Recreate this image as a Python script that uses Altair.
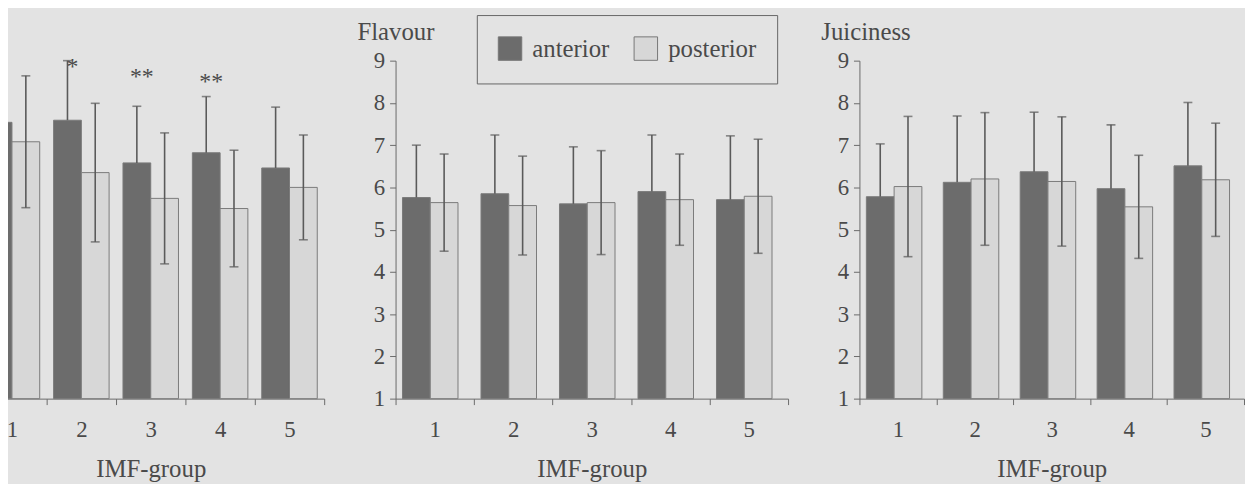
import altair as alt
import pandas as pd

groups = ["1", "2", "3", "4", "5"]
series = ["anterior", "posterior"]

# left (cut-off) panel
ten_ant_mean = [7.54, 7.59, 6.58, 6.82, 6.46]
ten_ant_sd = [1.63, 1.41, 1.34, 1.33, 1.44]
ten_post_mean = [7.08, 6.35, 5.74, 5.50, 6.00]
ten_post_sd = [1.56, 1.64, 1.55, 1.38, 1.24]

# Flavour
fla_ant_mean = [5.76, 5.85, 5.61, 5.90, 5.71]
fla_ant_sd = [1.24, 1.39, 1.35, 1.34, 1.51]
fla_post_mean = [5.64, 5.57, 5.64, 5.71, 5.79]
fla_post_sd = [1.15, 1.17, 1.23, 1.08, 1.35]

# Juiciness
jui_ant_mean = [5.78, 6.12, 6.37, 5.97, 6.51]
jui_ant_sd = [1.25, 1.57, 1.41, 1.51, 1.50]
jui_post_mean = [6.02, 6.20, 6.14, 5.54, 6.18]
jui_post_sd = [1.66, 1.57, 1.53, 1.22, 1.34]

star_groups = ["2", "3", "4"]
star_labels = ["*", "**", "**"]
star_y = [8.85, 8.6, 8.5]

FONT = "Liberation Serif"
TXT = "#4a4a4a"
LINE = "#5a5a5a"


def make_df(am, asd, pm, psd):
    rows = []
    for i, g in enumerate(groups):
        rows.append(dict(group=g, series="anterior", mean=am[i], base=1.0,
                         lo=am[i], hi=am[i] + asd[i]))
        rows.append(dict(group=g, series="posterior", mean=pm[i], base=1.0,
                         lo=pm[i] - psd[i], hi=pm[i] + psd[i]))
    return pd.DataFrame(rows)


legend = alt.Legend(
    title=None, orient="none", legendX=504, legendY=-46, direction="horizontal",
    symbolType="square", symbolSize=560, symbolStrokeColor="#777777",
    symbolStrokeWidth=1, labelFont=FONT, labelFontSize=25, labelColor=TXT,
    labelOffset=10, columnPadding=22, padding=21, strokeColor="#666666",
    labelLimit=200,
)

fill_scale = alt.Scale(domain=series, range=["#6c6c6c", "#d7d7d7"])
yscale = alt.Scale(domain=[1, 9], nice=False, zero=False)


def panel(df, title, width, show_y=True, stars=None):
    xs = alt.Scale(paddingInner=0, paddingOuter=0)
    x = alt.X("group:N", scale=xs, sort=groups,
              axis=alt.Axis(title="IMF-group", tickBand="extent", labelAngle=0,
                            tickSize=6, labelPadding=14, titlePadding=16))
    xo = alt.XOffset("series:N", sort=series,
                     scale=alt.Scale(paddingOuter=0.25, paddingInner=0))
    if show_y:
        yax = alt.Axis(title=title, values=list(range(1, 10)), tickSize=6,
                       labelPadding=5, titleAngle=0, titleAlign="left",
                       titleBaseline="alphabetic", titleX=-39, titleY=-21)
    else:
        yax = None
    base = alt.Chart(df)
    bars = base.mark_bar(stroke="#7a7a7a", strokeWidth=1).encode(
        x=x, xOffset=xo,
        y=alt.Y("mean:Q", scale=yscale, axis=yax),
        y2="base:Q",
        fill=alt.Fill("series:N", scale=fill_scale, legend=legend),
    )
    rules = base.mark_rule(color=LINE, strokeWidth=1.6).encode(
        x=x, xOffset=xo, y="lo:Q", y2="hi:Q")
    caps_top = base.mark_tick(color=LINE, orient="horizontal", size=9,
                              thickness=1.6).encode(x=x, xOffset=xo, y="hi:Q")
    caps_bot = base.transform_filter(alt.datum.series == "posterior").mark_tick(
        color=LINE, orient="horizontal", size=9, thickness=1.6
    ).encode(x=x, xOffset=xo, y="lo:Q")
    layers = [bars, rules, caps_top, caps_bot]
    if stars is not None:
        st = alt.Chart(stars).mark_text(font=FONT, fontSize=24, color=TXT,
                                        baseline="middle", dx=5).encode(
            x=x, xOffset=xo, y=alt.Y("y:Q", scale=yscale), text="label:N")
        layers.append(st)
    return alt.layer(*layers).properties(width=width, height=341)


stars_df = pd.DataFrame({"group": star_groups, "label": star_labels,
                         "y": star_y, "series": ["anterior"] * 3})

pA = panel(make_df(ten_ant_mean, ten_ant_sd, ten_post_mean, ten_post_sd),
           "", 350, show_y=False, stars=stars_df)
pB = panel(make_df(fla_ant_mean, fla_ant_sd, fla_post_mean, fla_post_sd),
           "Flavour", 396)
pC = panel(make_df(jui_ant_mean, jui_ant_sd, jui_post_mean, jui_post_sd),
           "Juiciness", 388)

chart = alt.hconcat(pA, pB, pC, spacing=32).properties(
    padding={"left": -32, "top": 4, "right": 0, "bottom": 0},
    background="#e3e3e3",
).configure_view(stroke=None).configure_axis(
    labelFont=FONT, labelFontSize=23, labelColor=TXT,
    titleFont=FONT, titleFontSize=25, titleFontWeight="normal", titleColor=TXT,
    domainColor="#6a6a6a", tickColor="#6a6a6a", grid=False,
)

chart.save("out.html", embed_options={"renderer": "svg", "actions": False})
